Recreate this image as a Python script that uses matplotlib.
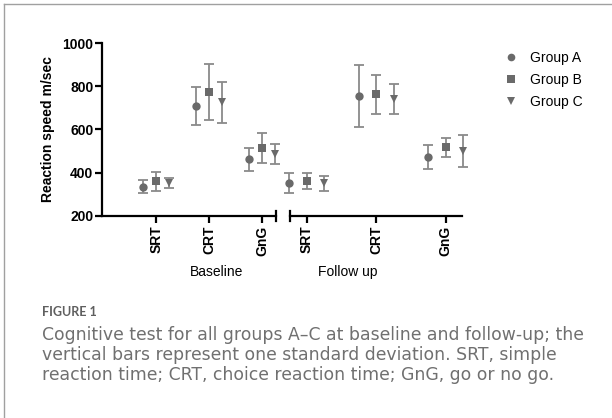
import matplotlib
matplotlib.use("Agg")
import matplotlib.pyplot as plt
from matplotlib.lines import Line2D
import numpy as np

tests = ["SRT", "CRT", "GnG"]
groups = ["Group A", "Group B", "Group C"]
markers = ["o", "s", "v"]

baseline_mean = {"Group A": [335, 708, 461], "Group B": [360, 775, 514], "Group C": [350, 727, 487]}
baseline_sd = {"Group A": [31, 88, 55], "Group B": [45, 129, 68], "Group C": [23, 95, 47]}
follow_mean = {"Group A": [350, 756, 472], "Group B": [361, 763, 517], "Group C": [350, 741, 500]}
follow_sd = {"Group A": [46, 145, 54], "Group B": [39, 90, 43], "Group C": [36, 68, 75]}

yticks = [200, 400, 600, 800, 1000]

W, H = 612, 418
fig = plt.figure(figsize=(W / 100, H / 100), dpi=100)

def fx(px):
    return px / W

def fy(py):
    return 1 - py / H

plot_font = ["Liberation Sans", "DejaVu Sans"]
marker_color = "#6a6a6a"
err_color = "#8a8a8a"
offsets = [-0.25, 0.0, 0.25]

y_top, y_bot = 43.3, 215.7
ax1 = fig.add_axes([fx(101.7), fy(y_bot), fx(275.7 - 101.7), (y_bot - y_top) / H])
ax2 = fig.add_axes([fx(290.0), fy(y_bot), fx(461.7 - 290.0), (y_bot - y_top) / H])

for ax, means, sds, xlim in [(ax1, baseline_mean, baseline_sd, (-1.03, 2.26)),
                             (ax2, follow_mean, follow_sd, (-0.24, 2.23))]:
    x = np.arange(len(tests))
    for g, m, off in zip(groups, markers, offsets):
        ax.errorbar(x + off, means[g], yerr=sds[g], fmt="none",
                    ecolor=err_color, elinewidth=1.3, capsize=3.5, capthick=1.3,
                    clip_on=False, zorder=3)
        ax.plot(x + off, means[g], ls="none", marker=m, color=marker_color,
                markersize=6, markeredgewidth=0, clip_on=False, zorder=4)
    ax.set_xlim(*xlim)
    ax.set_ylim(200, 1000)
    for s in ["top", "right"]:
        ax.spines[s].set_visible(False)
    ax.spines["bottom"].set_linewidth(1.6)
    ax.spines["left"].set_linewidth(1.6)
    ax.set_xticks(x)
    ax.set_xticklabels(tests, rotation=90, fontweight="bold", fontsize=10, family=plot_font)
    ax.tick_params(axis="x", length=5, width=1.6, pad=2)
    ax.patch.set_alpha(0)

ax1.set_yticks(yticks)
ax1.set_yticklabels([str(v) for v in yticks], fontweight="bold", fontsize=10, family=plot_font)
ax1.tick_params(axis="y", length=5, width=1.6, pad=1)
ax1.set_ylabel("Reaction speed m/sec", fontweight="bold", fontsize=10, family=plot_font, labelpad=5)

ax2.spines["left"].set_visible(False)
ax2.set_yticks([])

# break caps
cap = 5.0 / (y_bot - y_top)
ax1.plot([1, 1], [-cap, cap], transform=ax1.transAxes, color="black", lw=1.6, clip_on=False)
ax2.plot([0, 0], [-cap, cap], transform=ax2.transAxes, color="black", lw=1.6, clip_on=False)

fig.text(fx(216.7), fy(271.7), "Baseline", ha="center", va="center", fontsize=10, family=plot_font)
fig.text(fx(348), fy(271.7), "Follow up", ha="center", va="center", fontsize=10, family=plot_font)

# legend
handles = [Line2D([0], [0], marker=m, color=marker_color, ls="none", markersize=5.5, markeredgewidth=0)
           for m in markers]
leg = fig.legend(handles, groups, loc="center left", bbox_to_anchor=(fx(497), fy(80)),
                 frameon=False, prop={"family": plot_font, "size": 10},
                 handletextpad=0.8, labelspacing=0.55, handlelength=1.2, borderaxespad=0)

# border
fig.add_artist(Line2D([fx(4), fx(4)], [fy(4), 0], color="#a0a0a0", lw=1.0))
fig.add_artist(Line2D([fx(4), 1], [fy(4), fy(4)], color="#a0a0a0", lw=1.0))

fig.text(fx(42), fy(312), "FIGURE 1", ha="left", va="center", fontsize=9,
         fontweight="bold", color="#5f5f5f", family=["Lato", "DejaVu Sans"])
cap_lines = ["Cognitive test for all groups A\u2013C at baseline and follow-up; the",
             "vertical bars represent one standard deviation. SRT, simple",
             "reaction time; CRT, choice reaction time; GnG, go or no go."]
for i, line in enumerate(cap_lines):
    fig.text(fx(42), fy(335 + 20 * i), line, ha="left", va="center", fontsize=12.4,
             color="#707070", family=["DejaVu Sans"])

fig.savefig("out.png", dpi=100)
